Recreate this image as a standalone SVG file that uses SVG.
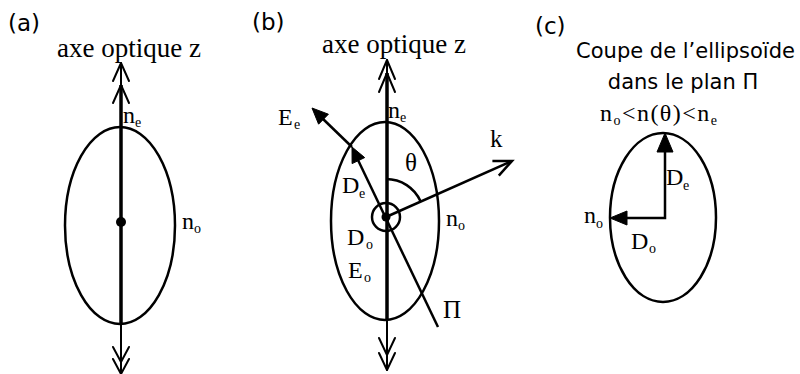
<svg xmlns="http://www.w3.org/2000/svg" width="800" height="374" viewBox="0 0 800 374">
<style>
.bg{fill:#fff}
.ell{fill:none;stroke:#000;stroke-width:2.5}
.thin{fill:none;stroke:#000;stroke-width:2;stroke-linecap:round;stroke-linejoin:round}
.thick{fill:none;stroke:#000;stroke-width:3.5}
.line{fill:none;stroke:#000;stroke-width:2.5}
.head{fill:#000;stroke:#000;stroke-width:1;stroke-linejoin:miter}
.lab{font-family:"DejaVu Sans",Verdana,sans-serif;font-size:23px;fill:#000}
.sans{font-family:"DejaVu Sans",Verdana,sans-serif;font-size:21px;fill:#000}
.ser{font-family:"Liberation Serif","Times New Roman",serif;fill:#000}
.m{font-size:24px}
.s{font-size:14px}
.t{font-size:27px}
</style>
<rect class="bg" x="0" y="0" width="800" height="374"/>

<g id="panel-a">
  <text class="lab" x="8" y="31">(a)</text>
  <text class="ser t" x="57" y="57">axe optique z</text>
  <ellipse id="ellipse-a" class="ell" cx="120" cy="225.5" rx="55" ry="98.5"/>
  <circle cx="121" cy="222" r="5" fill="#000"/>
  <text class="ser m" x="123" y="123">n</text><text class="ser s" x="135" y="127">e</text>
  <text class="ser m" x="182" y="229">n</text><text class="ser s" x="194" y="233">o</text>
</g>

<g id="panel-b">
  <text class="lab" x="252" y="30">(b)</text>
  <text class="ser t" x="322" y="53">axe optique z</text>
  <ellipse id="ellipse-b" class="ell" cx="385" cy="221" rx="54" ry="99"/>
  <circle cx="386" cy="217" r="14" class="line"/>
  <circle cx="386" cy="217" r="4.5" fill="#000"/>
  <path class="line" d="M386,179 A38,38 0 0 1 420.7,201.6"/>
  <text class="ser m" x="388" y="118">n</text><text class="ser s" x="400" y="122">e</text>
  <text class="ser m" x="278" y="125">E</text><text class="ser s" x="294" y="129">e</text>
  <text class="ser m" x="342" y="193">D</text><text class="ser s" x="359" y="198">e</text>
  <text class="ser" font-size="25" x="490" y="147">k</text>
  <text class="ser" font-size="25" x="405" y="171">θ</text>
  <text class="ser m" x="446" y="226">n</text><text class="ser s" x="458" y="230">o</text>
  <text class="ser m" x="347" y="245">D</text><text class="ser s" x="366" y="249">o</text>
  <text class="ser m" x="348" y="278">E</text><text class="ser s" x="364" y="282">o</text>
  <text class="ser" font-size="25" x="443" y="318">Π</text>
</g>

<g id="panel-c">
  <text class="lab" x="535" y="34">(c)</text>
  <text class="sans" x="685.5" y="58" text-anchor="middle">Coupe de l’ellipsoïde</text>
  <text class="sans" x="683" y="89" text-anchor="middle">dans le plan Π</text>
  <text class="ser" x="600" y="121" textLength="117" lengthAdjust="spacing"><tspan font-size="24">n</tspan><tspan font-size="14" dy="4">o</tspan><tspan font-size="24" dy="-4">&lt;n(θ)&lt;n</tspan><tspan font-size="14" dy="4">e</tspan></text>
  <ellipse id="ellipse-c" class="ell" cx="663" cy="217.5" rx="53" ry="84.5"/>
  <text class="ser m" x="666" y="185">D</text><text class="ser s" x="683" y="190">e</text>
  <text class="ser m" x="584" y="223">n</text><text class="ser s" x="596" y="228">o</text>
  <text class="ser m" x="631" y="249">D</text><text class="ser s" x="649" y="253">o</text>
</g>

<g id="connectors">
  <line class="thin" x1="121" y1="63" x2="121" y2="374"/>
  <line class="thick" x1="121" y1="85" x2="121" y2="323"/>
  <polyline class="thin" points="113,81 121,63 129,81"/>
  <polyline class="thin" points="113,103 121,85 129,103"/>
  <polyline class="thin" points="113,347 121,362 129,347"/>
  <polyline class="thin" points="113,359 121,374 129,359"/>
  <line class="thin" x1="387" y1="60" x2="387" y2="370"/>
  <line class="thick" x1="387" y1="73" x2="387" y2="320"/>
  <polyline class="thin" points="379,79 387,60 395,79"/>
  <polyline class="thin" points="379,92 387,73 395,92"/>
  <polyline class="thin" points="379,338 387,355 395,338"/>
  <polyline class="thin" points="379,353 387,370 395,353"/>
  <line class="line" x1="438" y1="327" x2="358" y2="160"/>
  <polygon class="head" points="352,147 364.7,157.6 352.1,163.6"/>
  <line class="line" x1="352" y1="147" x2="322" y2="118"/>
  <polygon class="head" points="312,108 328.4,114.2 318.6,124.2"/>
  <line class="line" x1="386" y1="217" x2="511" y2="161.5"/>
  <polyline class="line" points="492.4,161 512,161 498.8,175.6" stroke-linejoin="miter"/>
  <polyline class="line" points="665,152 665,218 627,218"/>
  <polygon class="head" points="665,133 657,152 673,152"/>
  <polygon class="head" points="610,218 627,211 627,225"/>
</g>
</svg>
